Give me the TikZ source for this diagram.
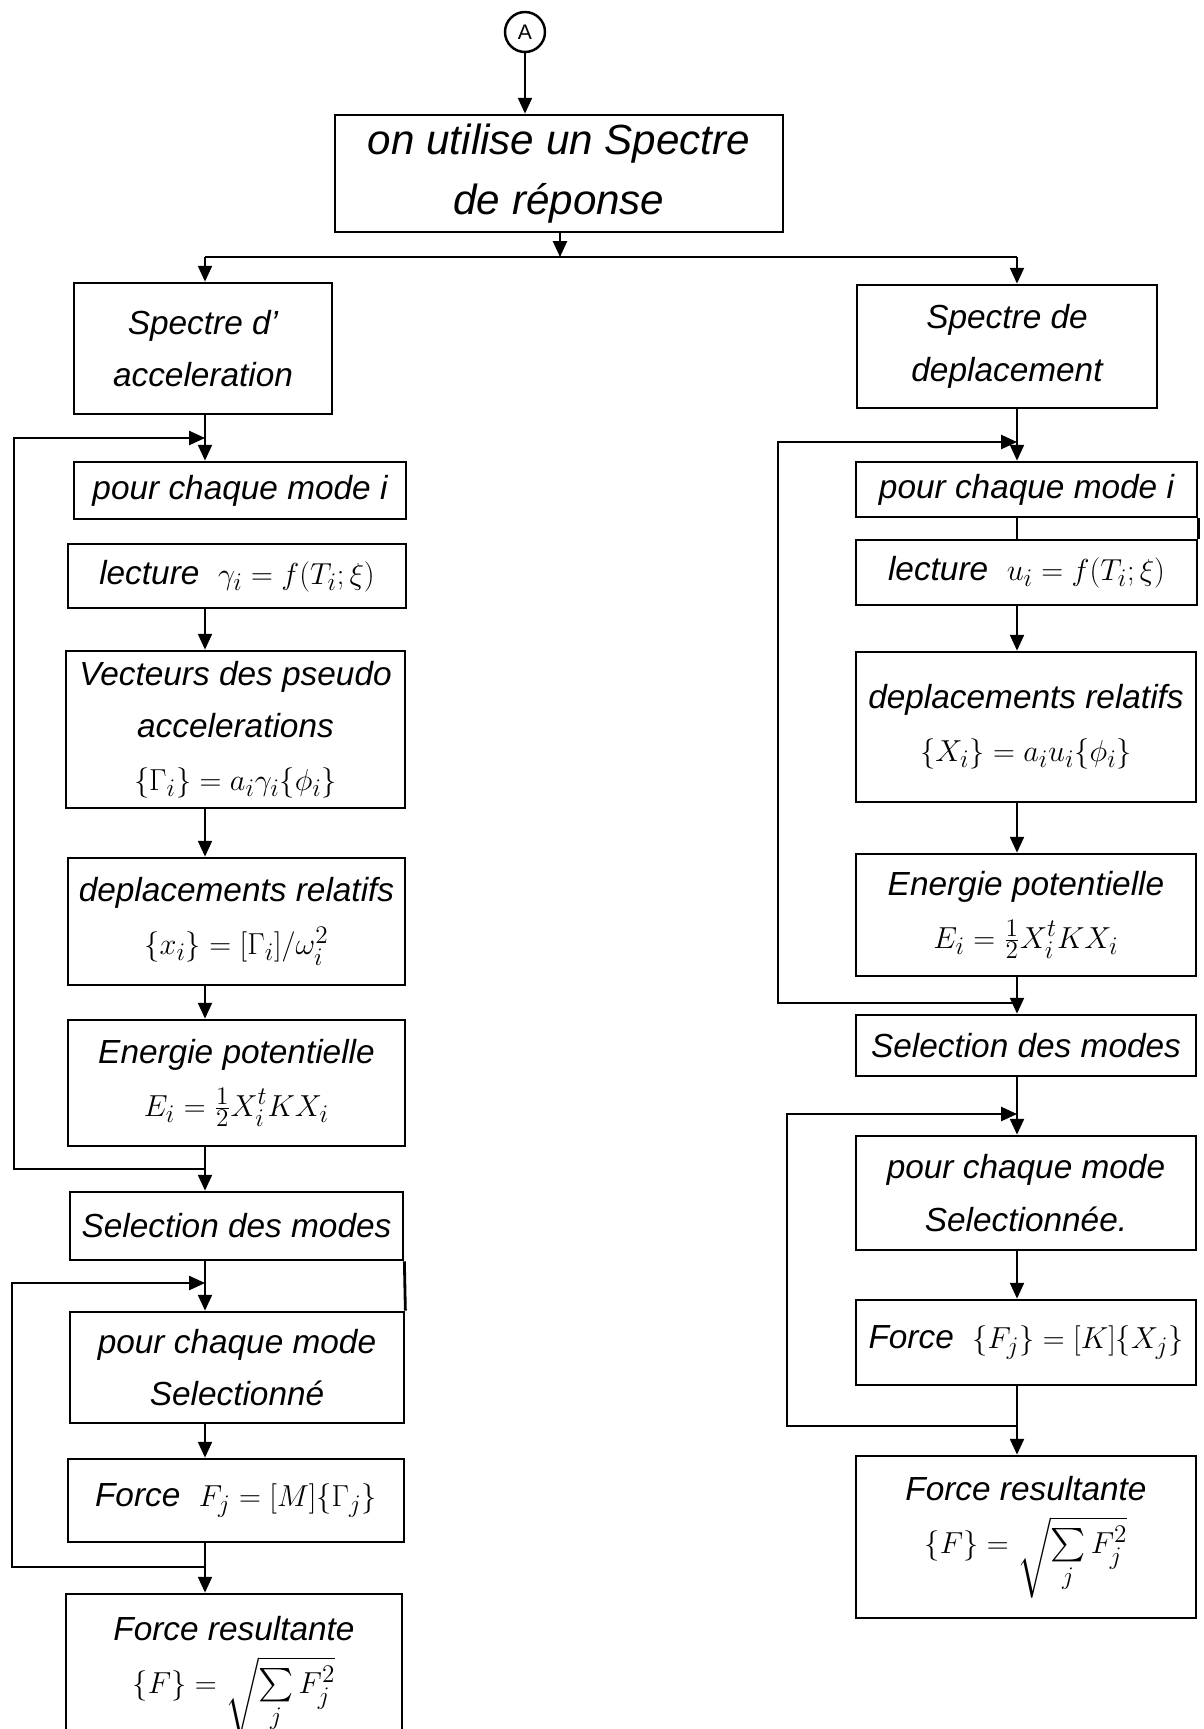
\documentclass[tikz,border=0pt]{standalone}
\usepackage{amsmath,amssymb}
\usepackage{fontspec}
\setmainfont{Liberation Sans}
\usetikzlibrary{arrows.meta}

\tikzset{
  boite/.style={draw,line width=1.6pt,align=center,inner sep=2pt,font=\fontsize{19}{30}\selectfont\itshape},
  fleche/.style={line width=1.1pt,-{Triangle[length=9pt,width=8pt]}},
  trait/.style={line width=1.1pt}
}

\begin{document}
\begin{tikzpicture}[x=0.02cm,y=-0.02cm]
  \useasboundingbox (0,0) rectangle (1204,1729);

  \node[draw,circle,line width=1.4pt,minimum size=0.8cm,inner sep=0pt,font=\large] (A) at (525,32) {A};
  \node[boite,minimum width=8.96cm,minimum height=2.34cm,font=\fontsize{24}{34}\selectfont\itshape] (top) at (559,173.5) {on utilise un Spectre\\de réponse};

  \coordinate (sa) at (205,0);
  \coordinate (sd) at (1017,0);
  \coordinate (jt) at (560,257);
  \coordinate (hg) at (205,257);
  \coordinate (hd) at (1017,257);

  \node[boite,minimum width=5.16cm,minimum height=2.62cm] (specA) at (203,348.5) {Spectre d'\\acceleration};
  \node[boite,minimum width=6.64cm,minimum height=1.14cm] (pourA) at (240,490.5) {pour chaque mode i};
  \node[boite,minimum width=6.76cm,minimum height=1.28cm] (lectA) at (237,576) {lecture\; $\gamma_i = f(T_i;\xi)$};
  \node[boite,minimum width=6.78cm,minimum height=3.14cm] (vectA) at (235.5,729.5) {Vecteurs des pseudo\\accelerations\\$\{\Gamma_i\} = a_i\gamma_i\{\phi_i\}$};
  \node[boite,minimum width=6.74cm,minimum height=2.54cm] (deplA) at (236.5,921.5) {deplacements relatifs\\$\{x_i\} = [\Gamma_i]/\omega_i^2$};
  \node[boite,minimum width=6.74cm,minimum height=2.52cm] (enerA) at (236.5,1083) {Energie potentielle\\$E_i = \frac{1}{2}X_i^t K X_i$};
  \node[boite,minimum width=6.66cm,minimum height=1.36cm] (selA) at (236.5,1226) {Selection des modes};
  \node[boite,minimum width=6.68cm,minimum height=2.22cm] (poursA) at (237,1367.5) {pour chaque mode\\Selectionné};
  \node[boite,minimum width=6.72cm,minimum height=1.66cm] (forceA) at (236,1500.5) {Force\; $F_j = [M]\{\Gamma_j\}$};
  \node[boite,minimum width=6.72cm,minimum height=3.32cm] (resA) at (234,1677) {Force resultante\\$\{F\} = \sqrt{\sum\limits_j F_j^2}$};

  \node[boite,minimum width=6.0cm,minimum height=2.46cm] (specD) at (1007,346.5) {Spectre de\\deplacement};
  \node[boite,minimum width=6.82cm,minimum height=1.1cm] (pourD) at (1026.5,489.5) {pour chaque mode i};
  \node[boite,minimum width=6.82cm,minimum height=1.3cm] (lectD) at (1026.5,572.5) {lecture\; $u_i = f(T_i;\xi)$};
  \node[boite,minimum width=6.8cm,minimum height=3.0cm] (deplD) at (1026,727) {deplacements relatifs\\$\{X_i\} = a_i u_i\{\phi_i\}$};
  \node[boite,minimum width=6.8cm,minimum height=2.44cm] (enerD) at (1026,915) {Energie potentielle\\$E_i = \frac{1}{2}X_i^t K X_i$};
  \node[boite,minimum width=6.8cm,minimum height=1.22cm] (selD) at (1026,1045.5) {Selection des modes};
  \node[boite,minimum width=6.8cm,minimum height=2.28cm] (poursD) at (1026,1193) {pour chaque mode\\Selectionnée.};
  \node[boite,minimum width=6.8cm,minimum height=1.7cm] (forceD) at (1026,1342.5) {Force\; $\{F_j\} = [K]\{X_j\}$};
  \node[boite,minimum width=6.8cm,minimum height=3.24cm] (resD) at (1026,1537) {Force resultante\\$\{F\} = \sqrt{\sum\limits_j F_j^2}$};

  \draw[fleche] (A.south) -- (A.south |- top.north);
  \draw[fleche] (top.south -| jt) -- (jt);
  \draw[trait] (hg) -- (hd);
  \draw[fleche] (hg) -- (specA.north -| hg);
  \draw[fleche] (hd) -- (specD.north -| hd);

  \coordinate (gA1) at (14,438);
  \coordinate (bA1) at (205,1169);
  \coordinate (gA2) at (12,1283);
  \coordinate (bA2) at (205,1567);

  \draw[fleche] (specA.south -| sa) -- (pourA.north -| sa);
  \draw[fleche] (lectA.south -| sa) -- (vectA.north -| sa);
  \draw[fleche] (vectA.south -| sa) -- (deplA.north -| sa);
  \draw[fleche] (deplA.south -| sa) -- (enerA.north -| sa);
  \draw[fleche] (enerA.south -| sa) -- (selA.north -| sa);
  \draw[fleche] (selA.south -| sa) -- (poursA.north -| sa);
  \draw[fleche] (poursA.south -| sa) -- (forceA.north -| sa);
  \draw[fleche] (forceA.south -| sa) -- (resA.north -| sa);
  \draw[fleche] (bA1) -| (gA1) -- (gA1 -| sa);
  \draw[fleche] (bA2) -| (gA2) -- (gA2 -| sa);
  \draw[line width=1.6pt] (selA.south east) -- (poursA.north east);

  \coordinate (gD1) at (778,442);
  \coordinate (bD1) at (1017,1003);
  \coordinate (gD2) at (787,1114);
  \coordinate (bD2) at (1017,1426);

  \draw[fleche] (specD.south -| sd) -- (pourD.north -| sd);
  \draw[trait] (pourD.south -| sd) -- (lectD.north -| sd);
  \draw[fleche] (lectD.south -| sd) -- (deplD.north -| sd);
  \draw[fleche] (deplD.south -| sd) -- (enerD.north -| sd);
  \draw[fleche] (enerD.south -| sd) -- (selD.north -| sd);
  \draw[fleche] (selD.south -| sd) -- (poursD.north -| sd);
  \draw[fleche] (poursD.south -| sd) -- (forceD.north -| sd);
  \draw[fleche] (forceD.south -| sd) -- (resD.north -| sd);
  \draw[fleche] (bD1) -| (gD1) -- (gD1 -| sd);
  \draw[fleche] (bD2) -| (gD2) -- (gD2 -| sd);
  \draw[line width=1.6pt] (pourD.south east) -- (lectD.north east);

\end{tikzpicture}
\end{document}
